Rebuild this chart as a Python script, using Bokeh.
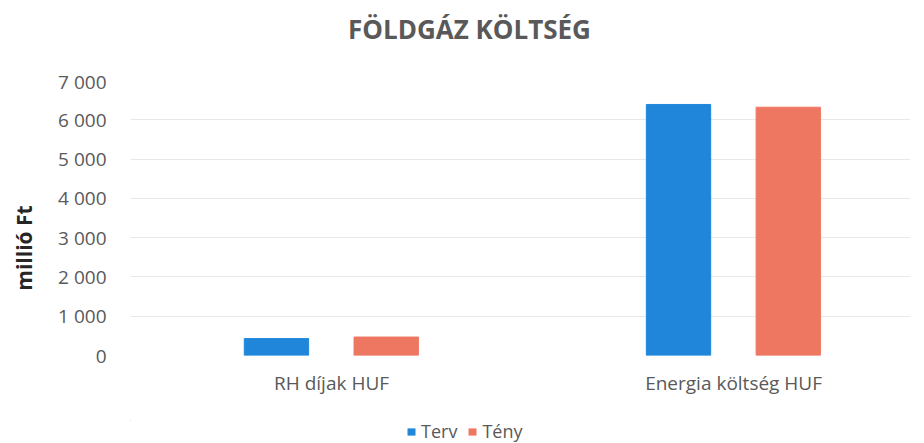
from bokeh.plotting import figure
from bokeh.layouts import column
from bokeh.models import (ColumnDataSource, Range1d, FixedTicker, CustomJSTickFormatter,
                          Legend, LegendItem, Label)
from bokeh.transform import dodge
from bokeh.embed import file_html
from bokeh.resources import INLINE

title_text = "FÖLDGÁZ KÖLTSÉG"
y_label = "millió Ft"
categories = ["RH díjak HUF", "Energia költség HUF"]
series = ["Terv", "Tény"]
terv = [430, 6390]
teny = [470, 6320]
y_ticks = [0, 1000, 2000, 3000, 4000, 5000, 6000, 7000]

colors = {"Terv": "#1f86da", "Tény": "#ee7762"}
FONT = "Open Sans"
GRAY = "#595959"

pos = list(range(len(categories)))
src = ColumnDataSource(dict(x=pos, Terv=terv, Tény=teny))

W = 916
H_TITLE = 68
H_MAIN = 352
H_LEG = 23
FRAME_W = 780


def strip(height, xr, yr):
    f = figure(width=W, height=height, output_backend="svg", toolbar_location=None,
               x_range=xr, y_range=yr, x_axis_type=None, y_axis_type=None, min_border=0)
    f.outline_line_color = None
    f.grid.visible = False
    f.background_fill_color = "white"
    f.border_fill_color = "white"
    return f


# title strip (frame aligned with the chart frame; 1 unit = 1 px)
pt = strip(H_TITLE, Range1d(0, FRAME_W), Range1d(0, H_TITLE))
pt.add_layout(Label(x=339, y=40, text=title_text, text_align="center", text_baseline="middle",
                    text_font=FONT, text_font_size="26px", text_font_style="bold",
                    text_color=GRAY))

p = figure(width=W, height=H_MAIN, output_backend="svg", toolbar_location=None,
           x_range=Range1d(-0.5, 1.44), y_range=Range1d(0, 7000),
           min_border_left=130, min_border_right=6, min_border_top=12,
           min_border_bottom=65)
p.outline_line_color = None
p.background_fill_color = "white"
p.border_fill_color = "white"

r1 = p.vbar(x=dodge("x", -0.137, range=p.x_range), top="Terv", width=0.16, source=src,
            color=colors["Terv"])
r2 = p.vbar(x=dodge("x", 0.136, range=p.x_range), top="Tény", width=0.16, source=src,
            color=colors["Tény"])

p.xgrid.visible = False
p.ygrid.grid_line_color = "#e8e8e8"
p.ygrid.ticker = FixedTicker(ticks=y_ticks)

ya = p.yaxis[0]
ya.ticker = FixedTicker(ticks=y_ticks)
ya.formatter = CustomJSTickFormatter(code="return tick.toFixed(0).replace(/\\B(?=(\\d{3})+(?!\\d))/g, ' ');")
ya.axis_line_color = None
ya.major_tick_line_color = None
ya.minor_tick_line_color = None
ya.major_label_standoff = 18
ya.major_label_text_font = FONT
ya.major_label_text_font_size = "19px"
ya.major_label_text_color = GRAY
ya.axis_label = y_label + "\u00a0" * 11
ya.axis_label_text_font = FONT
ya.axis_label_text_font_size = "21px"
ya.axis_label_text_font_style = "bold"
ya.axis_label_text_color = "#262626"
ya.axis_label_standoff = 17

xa = p.xaxis[0]
xa.ticker = FixedTicker(ticks=pos)
xa.major_label_overrides = {i: c for i, c in enumerate(categories)}
xa.axis_line_color = None
xa.major_tick_line_color = None
xa.minor_tick_line_color = None
xa.major_label_standoff = 8
xa.major_label_text_font = FONT
xa.major_label_text_font_size = "19px"
xa.major_label_text_color = GRAY

# legend strip below the chart (its zero-width proxy bars lie outside its visible ranges)
pl = strip(H_LEG, Range1d(10, 11), Range1d(-20000, -10000))
l1 = pl.vbar(x="x", top="Terv", width=0, source=src, fill_color=colors["Terv"], line_color=None)
l2 = pl.vbar(x="x", top="Tény", width=0, source=src, fill_color=colors["Tény"], line_color=None)

legend = Legend(items=[LegendItem(label=series[0], renderers=[l1]),
                       LegendItem(label=series[1], renderers=[l2])],
                orientation="horizontal", location=(276, 0),
                label_text_font=FONT, label_text_font_size="18px", label_text_color=GRAY,
                glyph_width=10, glyph_height=9, spacing=10, label_standoff=5,
                label_height=18,
                border_line_color=None, background_fill_alpha=0, padding=1, margin=0)
pl.add_layout(legend, "center")

layout = column(pt, p, pl, spacing=0)
open("out.html", "w").write(file_html(layout, INLINE))
